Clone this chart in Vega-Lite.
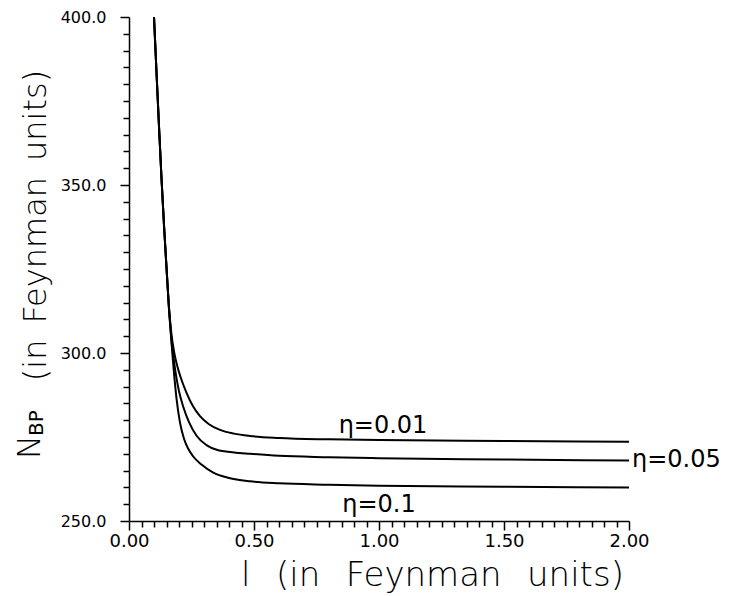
{
  "$schema": "https://vega.github.io/schema/vega-lite/v6.json",
  "width": 500,
  "height": 504,
  "autosize": {"type": "none"},
  "padding": {"left": 129, "top": 17, "right": 103, "bottom": 75},
  "background": "white",
  "config": {"view": {"stroke": null}, "font": "DejaVu Sans", "axis": {"labelOverlap": false, "labelFlush": false}},
  "datasets": {
    "curves": [
      {"eta": "0.01", "I": 0.10, "N": 400},
      {"eta": "0.01", "I": 0.11, "N": 383.5},
      {"eta": "0.01", "I": 0.12, "N": 367.5},
      {"eta": "0.01", "I": 0.13, "N": 352},
      {"eta": "0.01", "I": 0.14, "N": 338},
      {"eta": "0.01", "I": 0.15, "N": 325.5},
      {"eta": "0.01", "I": 0.16, "N": 313.5},
      {"eta": "0.01", "I": 0.17, "N": 305.5},
      {"eta": "0.01", "I": 0.18, "N": 300.5},
      {"eta": "0.01", "I": 0.19, "N": 297},
      {"eta": "0.01", "I": 0.20, "N": 294.3},
      {"eta": "0.01", "I": 0.215, "N": 291},
      {"eta": "0.01", "I": 0.231, "N": 288},
      {"eta": "0.01", "I": 0.255, "N": 284.3},
      {"eta": "0.01", "I": 0.284, "N": 281.2},
      {"eta": "0.01", "I": 0.32, "N": 278.8},
      {"eta": "0.01", "I": 0.364, "N": 277.1},
      {"eta": "0.01", "I": 0.42, "N": 276},
      {"eta": "0.01", "I": 0.484, "N": 275.3},
      {"eta": "0.01", "I": 0.6, "N": 274.7},
      {"eta": "0.01", "I": 0.8, "N": 274.3},
      {"eta": "0.01", "I": 1.0, "N": 274.1},
      {"eta": "0.01", "I": 1.5, "N": 273.8},
      {"eta": "0.01", "I": 2.0, "N": 273.6},
      {"eta": "0.05", "I": 0.10, "N": 400},
      {"eta": "0.05", "I": 0.11, "N": 383.5},
      {"eta": "0.05", "I": 0.12, "N": 367.5},
      {"eta": "0.05", "I": 0.13, "N": 352},
      {"eta": "0.05", "I": 0.14, "N": 338},
      {"eta": "0.05", "I": 0.15, "N": 325.5},
      {"eta": "0.05", "I": 0.16, "N": 313.3},
      {"eta": "0.05", "I": 0.17, "N": 304},
      {"eta": "0.05", "I": 0.18, "N": 297.5},
      {"eta": "0.05", "I": 0.19, "N": 292.5},
      {"eta": "0.05", "I": 0.20, "N": 288.6},
      {"eta": "0.05", "I": 0.217, "N": 284},
      {"eta": "0.05", "I": 0.24, "N": 279.4},
      {"eta": "0.05", "I": 0.271, "N": 275.3},
      {"eta": "0.05", "I": 0.31, "N": 272.6},
      {"eta": "0.05", "I": 0.351, "N": 271.2},
      {"eta": "0.05", "I": 0.42, "N": 270.4},
      {"eta": "0.05", "I": 0.484, "N": 270},
      {"eta": "0.05", "I": 0.6, "N": 269.4},
      {"eta": "0.05", "I": 0.8, "N": 269.0},
      {"eta": "0.05", "I": 1.0, "N": 268.7},
      {"eta": "0.05", "I": 1.5, "N": 268.3},
      {"eta": "0.05", "I": 2.0, "N": 268.0},
      {"eta": "0.1", "I": 0.10, "N": 400},
      {"eta": "0.1", "I": 0.11, "N": 383.5},
      {"eta": "0.1", "I": 0.12, "N": 367.5},
      {"eta": "0.1", "I": 0.13, "N": 352},
      {"eta": "0.1", "I": 0.14, "N": 338},
      {"eta": "0.1", "I": 0.15, "N": 325.5},
      {"eta": "0.1", "I": 0.16, "N": 313},
      {"eta": "0.1", "I": 0.17, "N": 303},
      {"eta": "0.1", "I": 0.18, "N": 294},
      {"eta": "0.1", "I": 0.19, "N": 286.5},
      {"eta": "0.1", "I": 0.204, "N": 279.3},
      {"eta": "0.1", "I": 0.22, "N": 274.5},
      {"eta": "0.1", "I": 0.237, "N": 271.5},
      {"eta": "0.1", "I": 0.257, "N": 269.2},
      {"eta": "0.1", "I": 0.29, "N": 266.8},
      {"eta": "0.1", "I": 0.337, "N": 264.4},
      {"eta": "0.1", "I": 0.4, "N": 262.8},
      {"eta": "0.1", "I": 0.484, "N": 261.8},
      {"eta": "0.1", "I": 0.6, "N": 261.2},
      {"eta": "0.1", "I": 0.8, "N": 260.8},
      {"eta": "0.1", "I": 1.0, "N": 260.5},
      {"eta": "0.1", "I": 1.5, "N": 260.2},
      {"eta": "0.1", "I": 2.0, "N": 260.0}
    ],
    "etaCenter": [
      {"label": "η=0.01", "I": 1.016, "N": 276.2},
      {"label": "η=0.1", "I": 1.0, "N": 252.8}
    ],
    "etaLeft": [
      {"label": "η=0.05", "I": 2.012, "N": 266.1}
    ],
    "yN": [
      {"label": "N", "I": -0.356, "N": 268.45}
    ],
    "yBP": [
      {"label": "BP", "I": -0.344, "N": 275.3}
    ]
  },
  "layer": [
    {
      "data": {"name": "curves"},
      "mark": {"type": "line", "color": "black", "strokeWidth": 2, "interpolate": "monotone"},
      "encoding": {
        "x": {
          "field": "I", "type": "quantitative",
          "scale": {"domain": [0, 2], "nice": false, "zero": false},
          "axis": {
            "values": [0, 0.05, 0.1, 0.15, 0.2, 0.25, 0.3, 0.35, 0.4, 0.45, 0.5, 0.55, 0.6, 0.65, 0.7, 0.75, 0.8, 0.85, 0.9, 0.95, 1.0, 1.05, 1.1, 1.15, 1.2, 1.25, 1.3, 1.35, 1.4, 1.45, 1.5, 1.55, 1.6, 1.65, 1.7, 1.75, 1.8, 1.85, 1.9, 1.95, 2.0],
            "tickCount": 200,
            "labelExpr": "round(datum.value*100) % 50 == 0 ? format(datum.value, '.2f') : ''",
            "tickSize": {"condition": {"test": "round(datum.value*100) % 50 == 0", "value": 9}, "value": 6},
            "grid": false,
            "domainColor": "black", "domainWidth": 1.5,
            "tickColor": "black", "tickWidth": 1.5,
            "labelFontSize": 18, "labelColor": "black", "labelPadding": 2,
            "labelOverlap": false, "labelFlush": false,
            "title": "l\u2002\u2005(in\u2002\u2005Feynman\u2002\u2005units)",
            "titleFontSize": 34, "titleFontWeight": 200, "titleColor": "black",
            "titleX": 303, "titleY": 64, "titleBaseline": "alphabetic", "titleAlign": "center"
          }
        },
        "y": {
          "field": "N", "type": "quantitative",
          "scale": {"domain": [250, 400], "nice": false, "zero": false},
          "axis": {
            "values": [250, 255, 260, 265, 270, 275, 280, 285, 290, 295, 300, 305, 310, 315, 320, 325, 330, 335, 340, 345, 350, 355, 360, 365, 370, 375, 380, 385, 390, 395, 400],
            "tickCount": 200,
            "labelExpr": "datum.value % 50 == 0 ? format(datum.value, '.1f') : ''",
            "tickSize": {"condition": {"test": "datum.value % 50 == 0", "value": 9}, "value": 6},
            "grid": false,
            "domainColor": "black", "domainWidth": 1.5,
            "tickColor": "black", "tickWidth": 1.5,
            "labelFontSize": 16, "labelColor": "black", "labelPadding": 14,
            "labelOverlap": false, "labelFlush": false,
            "title": "(in\u2002Feynman\u2002units)",
            "titleFontSize": 32, "titleFontWeight": 200, "titleColor": "black",
            "titleAngle": 270, "titleX": -84, "titleY": 208, "titleBaseline": "alphabetic", "titleAlign": "center"
          }
        },
        "detail": {"field": "eta", "type": "nominal"}
      }
    },
    {
      "data": {"name": "etaCenter"},
      "mark": {"type": "text", "color": "black", "fontSize": 24, "align": "center", "baseline": "alphabetic", "font": "DejaVu Sans"},
      "encoding": {
        "x": {"field": "I", "type": "quantitative", "scale": {"domain": [0, 2], "nice": false, "zero": false}},
        "y": {"field": "N", "type": "quantitative", "scale": {"domain": [250, 400], "nice": false, "zero": false}},
        "text": {"field": "label"}
      }
    },
    {
      "data": {"name": "etaLeft"},
      "mark": {"type": "text", "color": "black", "fontSize": 24, "align": "left", "baseline": "alphabetic", "font": "DejaVu Sans"},
      "encoding": {
        "x": {"field": "I", "type": "quantitative", "scale": {"domain": [0, 2], "nice": false, "zero": false}},
        "y": {"field": "N", "type": "quantitative", "scale": {"domain": [250, 400], "nice": false, "zero": false}},
        "text": {"field": "label"}
      }
    },
    {
      "data": {"name": "yN"},
      "mark": {"type": "text", "color": "black", "fontSize": 32, "fontWeight": 200, "angle": 270, "align": "left", "baseline": "alphabetic", "font": "DejaVu Sans"},
      "encoding": {
        "x": {"field": "I", "type": "quantitative", "scale": {"domain": [0, 2], "nice": false, "zero": false}},
        "y": {"field": "N", "type": "quantitative", "scale": {"domain": [250, 400], "nice": false, "zero": false}},
        "text": {"field": "label"}
      }
    },
    {
      "data": {"name": "yBP"},
      "mark": {"type": "text", "color": "black", "fontSize": 20, "angle": 270, "align": "left", "baseline": "alphabetic", "font": "DejaVu Sans"},
      "encoding": {
        "x": {"field": "I", "type": "quantitative", "scale": {"domain": [0, 2], "nice": false, "zero": false}},
        "y": {"field": "N", "type": "quantitative", "scale": {"domain": [250, 400], "nice": false, "zero": false}},
        "text": {"field": "label"}
      }
    }
  ]
}
